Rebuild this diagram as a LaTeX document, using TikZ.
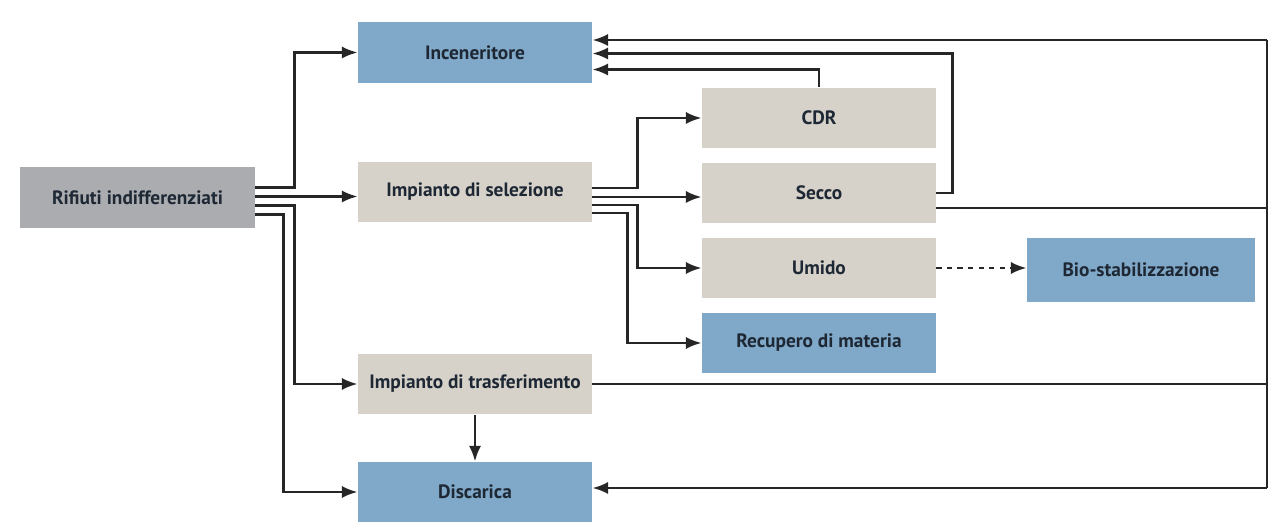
\documentclass[tikz,border=0pt]{standalone}
\usepackage{fontspec}
\setmainfont{PT Sans}
\usepackage{tikz}
\usetikzlibrary{positioning, arrows.meta, calc}
\definecolor{BoxBlue}{RGB}{128, 168, 200}
\definecolor{BoxSand}{RGB}{214, 210, 202}
\definecolor{BoxGray}{RGB}{170, 172, 176}
\definecolor{TextNavy}{RGB}{30, 40, 52}

\begin{document}
\begin{tikzpicture}[
                x=0.02cm, y=-0.02cm,
                >={Latex[length=9pt, width=7pt]},
                box/.style={rectangle, minimum width=4.68cm, minimum height=1.22cm, inner sep=0pt, text=TextNavy, font=\fontsize{11}{13}\selectfont\bfseries},
                blue/.style={box, fill=BoxBlue},
                sand/.style={box, fill=BoxSand},
                flow/.style={->, line width=1.6pt, black!85},
                link/.style={line width=1.6pt, black!85}
            ]
                \useasboundingbox (0,0) rectangle (1269,523);

                % Nodes
                \node[box, fill=BoxGray, minimum width=4.7cm] (rif) at (137.5,197.5) {Rifiuti indifferenziati};
                \node[blue] (incen) at (475,52.5) {Inceneritore};
                \node[sand] (sel) at (475,192) {Impianto di selezione};
                \node[sand] (trasf) at (475,384) {Impianto di trasferimento};
                \node[blue, minimum height=1.2cm] (disc) at (475,492) {Discarica};
                \node[sand] (cdr) at (819,118) {CDR};
                \node[sand] (secco) at (819,193) {Secco};
                \node[sand] (umido) at (819,268) {Umido};
                \node[blue] (recup) at (819,343) {Recupero di materia};
                \node[blue, minimum width=4.56cm, minimum height=1.28cm] (bio) at (1141,270) {Bio-stabilizzazione};

                % Exits of Rifiuti indifferenziati
                \draw[flow] ($(rif.east)+(0,-10)$) -- ++(39,0) |- (incen.west);
                \coordinate (r2) at ($(rif.east)+(0,-1)$);
                \draw[flow] (r2) -- (r2 -| sel.west);
                \draw[flow] ($(rif.east)+(0,8)$) -- ++(39,0) |- (trasf.west);
                \draw[flow] ($(rif.east)+(0,17)$) -- ++(28,0) |- (disc.west);

                % Exits of Impianto di selezione
                \draw[flow] ($(sel.east)+(0,-4)$) -- ++(45,0) |- (cdr.west);
                \coordinate (s2) at ($(sel.east)+(0,5)$);
                \draw[flow] (s2) -- (s2 -| secco.west);
                \draw[flow] ($(sel.east)+(0,13)$) -- ++(45,0) |- (umido.west);
                \draw[flow] ($(sel.east)+(0,21)$) -- ++(35,0) |- (recup.west);

                % Transfer to landfill
                \draw[flow] (trasf.south) -- (disc.north);

                % Back to the incinerator
                \draw[flow] (cdr.north) |- ($(incen.east)+(0,17)$);
                \draw[flow] (secco.east) -- ++(16,0) |- ($(incen.east)+(0,1)$);

                % Right-hand return line
                \coordinate (rt) at (1267,40);
                \coordinate (rb) at (1267,488);
                \draw[link] (rt) -- (rb);
                \draw[flow] (rt) -- (rt -| incen.east);
                \draw[flow] (rb) -- (rb -| disc.east);
                \coordinate (s3) at ($(secco.east)+(0,15)$);
                \draw[link] (s3) -- (s3 -| rt);
                \draw[link] (trasf.east) -- (trasf.east -| rt);

                % Wet fraction
                \draw[flow, dashed] (umido.east) -- (umido.east -| bio.west);
            \end{tikzpicture}
\end{document}
